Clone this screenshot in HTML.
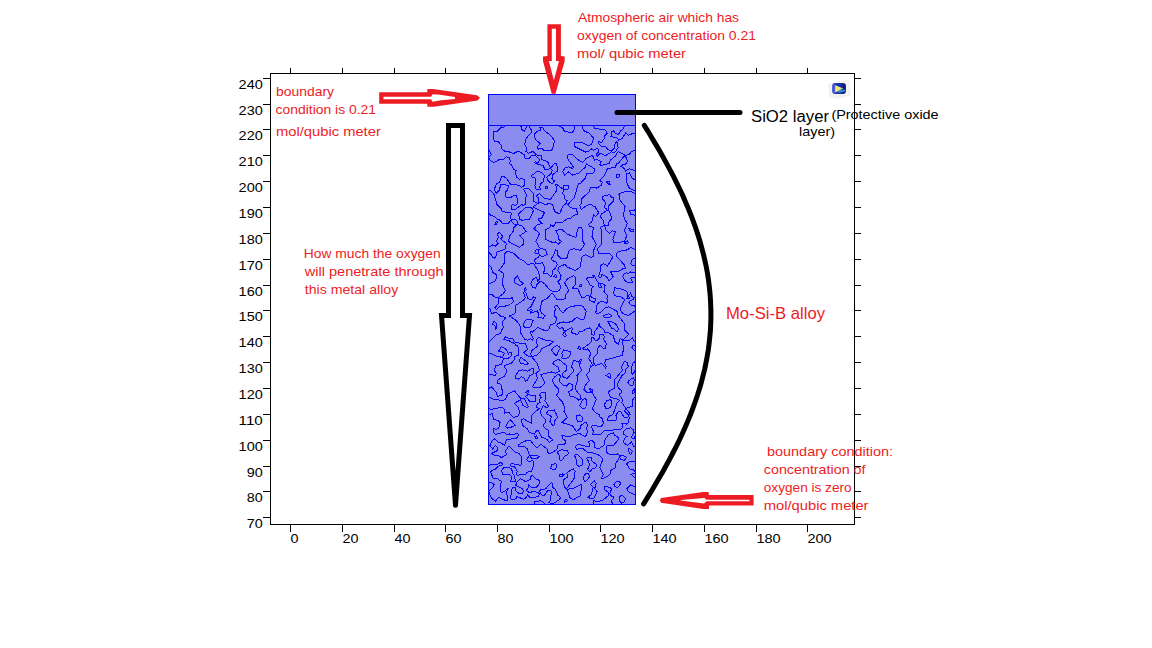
<!DOCTYPE html>
<html><head><meta charset="utf-8"><style>
html,body{margin:0;padding:0;background:#fff;width:1152px;height:648px;overflow:hidden}
svg{display:block}
text{font-family:"Liberation Sans",sans-serif}
</style></head><body>
<svg width="1152" height="648" viewBox="0 0 1152 648">
<rect width="1152" height="648" fill="#fff"/>
<g fill="#000" shape-rendering="crispEdges"><rect x="270" y="73" width="585" height="1"/><rect x="270" y="524" width="585" height="1"/><rect x="270" y="73" width="1" height="452"/><rect x="854" y="73" width="1" height="452"/><rect x="290" y="68" width="1" height="5"/><rect x="290" y="525" width="1" height="7"/><rect x="342" y="68" width="1" height="5"/><rect x="342" y="525" width="1" height="7"/><rect x="394" y="68" width="1" height="5"/><rect x="394" y="525" width="1" height="7"/><rect x="445" y="68" width="1" height="5"/><rect x="445" y="525" width="1" height="7"/><rect x="497" y="68" width="1" height="5"/><rect x="497" y="525" width="1" height="7"/><rect x="549" y="68" width="1" height="5"/><rect x="549" y="525" width="1" height="7"/><rect x="600" y="68" width="1" height="5"/><rect x="600" y="525" width="1" height="7"/><rect x="652" y="68" width="1" height="5"/><rect x="652" y="525" width="1" height="7"/><rect x="704" y="68" width="1" height="5"/><rect x="704" y="525" width="1" height="7"/><rect x="756" y="68" width="1" height="5"/><rect x="756" y="525" width="1" height="7"/><rect x="807" y="68" width="1" height="5"/><rect x="807" y="525" width="1" height="7"/><rect x="263" y="78" width="7" height="1"/><rect x="855" y="78" width="6" height="1"/><rect x="263" y="104" width="7" height="1"/><rect x="855" y="104" width="6" height="1"/><rect x="263" y="129" width="7" height="1"/><rect x="855" y="129" width="6" height="1"/><rect x="263" y="155" width="7" height="1"/><rect x="855" y="155" width="6" height="1"/><rect x="263" y="181" width="7" height="1"/><rect x="855" y="181" width="6" height="1"/><rect x="263" y="207" width="7" height="1"/><rect x="855" y="207" width="6" height="1"/><rect x="263" y="233" width="7" height="1"/><rect x="855" y="233" width="6" height="1"/><rect x="263" y="259" width="7" height="1"/><rect x="855" y="259" width="6" height="1"/><rect x="263" y="285" width="7" height="1"/><rect x="855" y="285" width="6" height="1"/><rect x="263" y="310" width="7" height="1"/><rect x="855" y="310" width="6" height="1"/><rect x="263" y="336" width="7" height="1"/><rect x="855" y="336" width="6" height="1"/><rect x="263" y="362" width="7" height="1"/><rect x="855" y="362" width="6" height="1"/><rect x="263" y="388" width="7" height="1"/><rect x="855" y="388" width="6" height="1"/><rect x="263" y="414" width="7" height="1"/><rect x="855" y="414" width="6" height="1"/><rect x="263" y="440" width="7" height="1"/><rect x="855" y="440" width="6" height="1"/><rect x="263" y="466" width="7" height="1"/><rect x="855" y="466" width="6" height="1"/><rect x="263" y="491" width="7" height="1"/><rect x="855" y="491" width="6" height="1"/><rect x="263" y="517" width="7" height="1"/><rect x="855" y="517" width="6" height="1"/></g>
<g font-size="13" fill="#000"><text x="290.4" y="543" textLength="8.0" lengthAdjust="spacingAndGlyphs">0</text><text x="342.4" y="543" textLength="16.0" lengthAdjust="spacingAndGlyphs">20</text><text x="394.4" y="543" textLength="16.0" lengthAdjust="spacingAndGlyphs">40</text><text x="445.4" y="543" textLength="16.0" lengthAdjust="spacingAndGlyphs">60</text><text x="497.4" y="543" textLength="16.0" lengthAdjust="spacingAndGlyphs">80</text><text x="549.4" y="543" textLength="24.2" lengthAdjust="spacingAndGlyphs">100</text><text x="600.4" y="543" textLength="24.2" lengthAdjust="spacingAndGlyphs">120</text><text x="652.4" y="543" textLength="24.2" lengthAdjust="spacingAndGlyphs">140</text><text x="704.4" y="543" textLength="24.2" lengthAdjust="spacingAndGlyphs">160</text><text x="756.4" y="543" textLength="24.2" lengthAdjust="spacingAndGlyphs">180</text><text x="807.4" y="543" textLength="24.2" lengthAdjust="spacingAndGlyphs">200</text><text x="238.60000000000002" y="89" textLength="24.2" lengthAdjust="spacingAndGlyphs">240</text><text x="238.60000000000002" y="115" textLength="24.2" lengthAdjust="spacingAndGlyphs">230</text><text x="238.60000000000002" y="140" textLength="24.2" lengthAdjust="spacingAndGlyphs">220</text><text x="238.60000000000002" y="166" textLength="24.2" lengthAdjust="spacingAndGlyphs">210</text><text x="238.60000000000002" y="192" textLength="24.2" lengthAdjust="spacingAndGlyphs">200</text><text x="238.60000000000002" y="218" textLength="24.2" lengthAdjust="spacingAndGlyphs">190</text><text x="238.60000000000002" y="244" textLength="24.2" lengthAdjust="spacingAndGlyphs">180</text><text x="238.60000000000002" y="270" textLength="24.2" lengthAdjust="spacingAndGlyphs">170</text><text x="238.60000000000002" y="296" textLength="24.2" lengthAdjust="spacingAndGlyphs">160</text><text x="238.60000000000002" y="321" textLength="24.2" lengthAdjust="spacingAndGlyphs">150</text><text x="238.60000000000002" y="347" textLength="24.2" lengthAdjust="spacingAndGlyphs">140</text><text x="238.60000000000002" y="373" textLength="24.2" lengthAdjust="spacingAndGlyphs">130</text><text x="238.60000000000002" y="399" textLength="24.2" lengthAdjust="spacingAndGlyphs">120</text><text x="238.60000000000002" y="425" textLength="24.2" lengthAdjust="spacingAndGlyphs">110</text><text x="238.60000000000002" y="451" textLength="24.2" lengthAdjust="spacingAndGlyphs">100</text><text x="246.8" y="477" textLength="16.0" lengthAdjust="spacingAndGlyphs">90</text><text x="246.8" y="502" textLength="16.0" lengthAdjust="spacingAndGlyphs">80</text><text x="246.8" y="528" textLength="16.0" lengthAdjust="spacingAndGlyphs">70</text></g>
<rect x="488.5" y="94.5" width="147" height="410" fill="#8c8cf0" stroke="#0000ff" stroke-width="1" shape-rendering="crispEdges"/>
<path d="M488,125.5H636" stroke="#0000ff" stroke-width="1" shape-rendering="crispEdges"/>
<path d="M528.8,125.5 531.5,130.5 531.2,132.5 526.1,138.5 524.7,144.5 526.6,148.5 526.0,151.5 528.5,153.3 532.8,151.5 536.5,155.0 541.0,155.5 541.7,159.5 547.5,161.4 550.5,168.0 554.5,163.7 556.5,163.5 558.0,170.5 552.9,174.5 552.0,178.5 552.5,179.8 554.8,180.5 552.5,183.8 548.5,181.4 546.6,177.5 551.0,173.5 552.4,170.5 550.5,168.8 544.6,169.5 543.4,165.5 535.3,163.5 534.6,162.5 535.4,161.5 537.5,163.4 539.7,159.5 535.5,155.8 531.5,155.7 529.0,158.5 526.5,158.9 524.2,157.5 524.2,154.5 519.5,151.8 517.5,151.5 513.5,153.5 507.5,151.3 505.5,151.9 501.3,148.5 501.4,145.5 498.5,141.7 494.5,141.5 493.5,138.9 493.5,131.0 497.5,131.0 501.5,126.9 503.5,127.2 505.7,125.5M519.2,125.5 521.3,126.5 522.0,129.5 524.5,131.4 527.0,125.5M574.9,125.5 574.5,129.4 573.4,131.5 571.5,132.5 564.5,131.5 563.0,128.5 559.0,125.5M593.6,125.5 594.5,128.6 603.7,129.5 605.6,130.5 607.2,133.5 604.5,135.8 604.1,138.5 601.6,142.5 598.5,141.6 598.5,143.7 601.5,146.2 605.5,146.4 607.5,149.3 611.5,151.0 614.1,148.5 615.2,143.5 616.5,141.8 617.5,142.4 617.1,145.5 618.2,147.5 615.5,151.6 613.5,152.6 611.5,151.9 605.5,155.7 600.5,153.2 597.5,155.9 596.2,154.5 598.1,152.5 598.5,149.1 596.5,148.8 593.5,150.2 591.5,149.0 588.5,151.4 585.5,152.0 574.6,146.5 574.5,142.5 576.5,142.1 582.5,142.9 588.5,145.9 591.5,144.1 593.3,139.5 593.0,137.5 589.5,133.4 583.4,130.5 581.9,125.5M635.5,133.8 633.5,133.2 628.5,135.2 625.5,133.1 622.2,138.5 618.5,140.0 617.5,138.2 611.0,136.5 611.6,131.5 613.5,130.8 615.6,133.5 618.5,134.5 620.5,130.8 622.8,129.5 624.6,125.5M550.5,150.8 544.5,151.0 541.5,148.1 538.5,149.2 537.9,148.5 537.8,146.5 540.2,143.5 535.5,139.6 534.2,134.5 537.5,131.2 540.5,130.2 540.5,127.6 539.5,127.3 542.8,127.5 544.1,130.5 549.5,134.3 554.7,140.5 552.4,149.5 550.5,150.8M488.5,148.8 491.2,154.5 488.8,157.5 490.5,160.8 494.5,162.5 499.5,159.3 503.5,159.6 506.5,156.8 509.5,157.8 510.3,161.5 509.6,163.5 511.5,165.0 513.5,169.1 516.1,170.5 515.2,172.5 516.5,177.0 519.5,179.3 522.5,178.3 524.9,180.5 524.3,185.5 521.5,187.1 518.5,185.2 510.5,184.3 506.7,178.5 503.5,176.4 501.8,176.5 499.5,182.0 496.5,184.0 494.1,189.5 496.1,193.5 499.1,190.5 500.9,184.5 508.5,185.3 507.8,189.5 505.2,192.5 505.4,196.5 506.5,197.4 511.5,197.1 514.5,195.2 516.6,195.5 518.0,202.5 515.6,205.5 512.5,204.5 511.2,206.5 511.5,209.1 515.5,209.3 521.5,204.6 523.5,205.4 525.5,204.0 526.2,194.5 523.7,189.5 524.5,188.2 528.3,188.5 533.8,193.5 533.7,201.5 538.2,203.5 533.3,206.5 533.6,207.5 544.5,212.5 541.5,218.5 538.5,218.5 538.2,219.5 541.9,223.5 537.6,224.5 534.0,228.5 539.5,233.5 535.9,241.5 540.1,248.5 545.6,249.5 547.3,254.5 542.5,256.7 539.5,254.9 538.0,257.5 534.7,259.5 534.4,261.5 536.5,263.9 542.5,262.8 544.9,268.5 543.5,273.3 547.5,273.6 550.5,276.8 551.9,275.5 552.6,270.5 555.2,268.5 557.4,264.5 555.8,261.5 552.5,260.8 551.2,258.5 553.5,255.5 555.5,249.6 557.2,250.5 557.2,254.5 560.8,258.5 565.5,258.5 567.6,257.5 568.2,252.5 570.2,249.5 574.5,248.8 580.5,250.4 584.5,244.5 582.1,239.5 582.9,231.5 581.5,227.2 578.5,227.9 576.6,233.5 577.0,236.5 575.5,237.3 567.5,234.2 561.5,229.2 555.7,230.5 558.0,234.5 558.8,239.5 561.3,241.5 558.5,244.1 555.5,241.9 552.5,242.5 545.9,239.5 545.9,229.5 550.0,227.5 550.5,225.0 553.5,226.5 555.5,222.8 562.5,222.4 567.5,218.5 570.5,218.6 573.5,215.3 577.6,214.5 576.5,208.9 570.5,207.7 568.0,204.5 574.3,197.5 578.4,183.5 580.5,183.3 585.5,178.0 586.5,173.9 592.5,173.4 594.7,171.5 594.2,168.5 586.5,163.9 584.6,168.5 583.3,168.5 579.5,172.8 572.5,175.0 568.5,172.0 564.5,175.3 562.6,171.5 565.3,167.5 568.5,166.9 572.5,168.4 573.7,167.5 567.5,158.5 567.2,155.5 568.5,154.4 572.5,154.3 576.5,158.8 582.5,162.3 586.5,158.2 592.5,155.2 594.5,160.1 597.5,159.8 601.2,161.5 600.0,164.5 600.5,165.7 609.3,163.5 610.1,160.5 616.0,155.5 616.5,153.4 618.5,151.7 625.5,155.5 629.5,154.3 631.3,151.5 635.5,150.1M635.5,170.7 629.5,168.8 625.5,171.1 624.5,168.5 620.8,166.5 621.5,165.3 625.5,164.1 627.4,161.5 625.5,156.0 623.5,157.0 618.5,163.2 616.5,163.7 615.5,167.5 607.5,168.5 604.4,175.5 599.7,180.5 602.4,182.5 601.0,185.5 596.5,188.1 590.5,187.1 589.5,191.7 581.9,198.5 581.5,203.5 579.7,205.5 581.2,209.5 586.5,205.5 590.5,204.1 593.5,206.1 595.5,206.1 595.9,208.5 598.7,212.5 596.5,215.9 595.5,216.2 593.5,214.3 592.0,221.5 588.6,224.5 589.5,226.0 593.5,227.5 592.0,236.5 596.2,244.5 593.1,251.5 593.6,256.5 590.5,257.4 585.5,254.7 583.5,255.4 581.1,258.5 580.9,266.5 575.5,270.5 566.5,266.8 565.5,264.3 559.3,266.5 557.9,270.5 561.0,275.5 560.1,279.5 557.9,281.5 560.7,286.5 559.5,290.5 555.5,292.0 552.5,291.5 549.5,289.6 544.5,283.5 540.5,281.3 536.8,284.5 535.5,288.1 532.9,287.5 530.9,283.5 532.7,279.5 536.5,277.2 537.5,280.9 540.0,278.5 538.5,271.8 533.8,263.5 527.5,264.3 523.5,260.6 518.9,258.5 513.5,253.1 507.5,251.1 504.0,254.5 504.0,263.5 499.1,270.5 503.8,273.5 502.1,283.5 505.3,290.5 503.4,293.5 498.5,297.3 495.5,297.5 491.8,294.5 488.5,294.4M540.5,190.1 535.5,188.8 534.9,185.5 535.9,178.5 531.0,176.5 531.0,175.5 534.5,173.8 536.5,171.1 541.5,172.5 544.4,175.5 543.5,181.5 540.9,183.5 539.7,186.5 540.5,190.1M635.5,191.4 628.7,187.5 626.6,181.5 626.7,173.5 629.5,172.9 632.5,178.7 635.5,179.6M619.5,177.5 616.5,177.4 617.0,174.5 619.0,174.5 619.5,177.5M610.5,185.5 606.8,182.5 607.0,181.5 609.5,182.0 610.5,185.5M559.5,214.0 554.6,211.5 552.9,205.5 551.5,204.1 548.5,203.6 545.5,204.9 541.5,202.9 538.5,202.9 539.0,198.5 536.4,196.5 537.5,194.6 539.5,193.8 544.5,198.5 550.5,199.3 556.0,191.5 556.8,187.5 555.4,184.5 556.5,184.1 563.5,189.6 562.7,193.5 564.2,195.5 564.1,198.5 567.0,200.5 566.1,203.5 563.2,205.5 559.5,214.0M566.5,189.8 563.6,189.5 563.5,185.9 568.7,185.5 569.0,188.5 566.5,189.8M547.5,188.6 545.5,188.1 545.1,186.5 547.2,186.5 547.5,188.6M488.5,212.9 490.7,215.5 494.7,216.5 497.5,219.4 499.5,219.8 502.5,223.3 507.5,223.9 510.5,220.8 515.5,225.1 517.5,224.9 513.8,227.5 513.8,230.5 509.9,235.5 508.5,241.5 519.5,247.4 523.3,244.5 524.0,242.5 523.2,239.5 520.1,235.5 526.1,231.5 522.5,226.2 517.9,224.5 516.9,220.5 514.5,219.3 511.5,220.0 510.1,217.5 511.4,213.5 510.5,212.5 503.5,211.9 501.6,210.5 501.1,208.5 496.9,204.5 494.0,194.5 491.5,191.1 488.5,189.6M635.5,250.3 631.5,247.4 625.5,250.6 618.5,251.3 616.8,253.5 616.7,256.5 624.0,264.5 625.7,268.5 623.5,268.5 618.5,271.4 610.5,271.4 613.1,276.5 609.5,280.6 608.5,280.5 607.3,277.5 601.5,274.2 601.5,276.7 599.2,277.5 598.6,276.5 600.8,269.5 600.8,265.5 603.5,263.5 607.5,266.1 612.6,257.5 611.5,255.2 609.5,253.9 598.5,253.5 597.5,248.5 601.8,244.5 602.0,230.5 600.2,227.5 604.4,225.5 603.3,220.5 600.1,216.5 601.5,213.9 607.1,210.5 606.4,208.5 604.2,207.5 605.7,202.5 602.2,198.5 602.3,196.5 609.5,194.6 611.5,197.3 613.5,197.5 613.9,198.5 613.1,201.5 608.9,205.5 608.2,209.5 611.0,215.5 611.2,219.5 609.2,221.5 608.2,225.5 604.5,225.5 606.1,230.5 609.5,233.2 612.5,230.8 615.5,231.5 612.9,239.5 613.8,242.5 615.5,243.0 624.2,241.5 626.9,235.5 624.4,230.5 627.4,223.5 624.7,219.5 623.4,214.5 625.1,206.5 619.5,199.6 619.0,194.5 620.5,193.1 625.5,191.6 631.5,191.6 635.5,193.6M523.7,220.5 525.5,219.1 528.5,219.8 529.9,218.5 533.5,210.5 531.5,207.9 525.5,207.8 518.9,213.5 519.2,219.5 523.7,220.5M635.5,208.2 634.5,210.7 629.7,210.5 630.5,214.7 633.5,214.5 635.5,216.1M496.6,224.5 497.5,221.5 496.5,221.3 494.7,224.5 496.6,224.5M633.1,231.5 633.2,229.5 629.0,228.5 630.5,231.3 633.1,231.5M488.5,252.2 491.3,254.5 492.5,257.3 494.5,258.0 495.9,256.5 496.5,252.1 504.8,249.5 506.5,243.5 501.5,239.7 500.9,238.5 502.8,236.5 499.5,232.4 497.9,233.5 498.1,237.5 496.2,241.5 498.2,243.5 495.5,246.2 492.5,245.0 488.5,247.4M627.4,243.5 628.4,242.5 627.5,240.8 625.7,241.5 624.5,243.5 627.4,243.5M538.0,253.5 539.0,249.5 537.5,249.2 535.4,250.5 534.7,252.5 535.5,253.8 538.0,253.5M635.5,265.9 632.5,265.9 630.9,263.5 632.3,259.5 635.5,257.8M488.5,282.9 489.5,283.8 492.4,282.5 495.5,280.5 496.8,277.5 496.3,274.5 492.7,272.5 490.9,266.5 488.5,265.0M635.5,277.4 631.5,277.5 630.9,278.5 632.5,282.5 628.5,282.9 624.8,280.5 622.7,276.5 623.5,274.5 626.5,272.5 628.5,273.7 630.5,272.0 635.5,272.9M556.3,277.5 556.5,275.3 555.5,274.4 553.9,276.5 556.3,277.5M635.5,396.4 632.2,400.5 632.5,406.0 625.6,408.5 629.9,413.5 630.1,414.5 628.5,415.2 624.9,411.5 625.2,407.5 621.9,402.5 622.5,400.5 621.5,397.4 619.5,395.5 619.5,393.9 621.7,392.5 621.6,390.5 618.5,388.2 617.2,384.5 622.5,374.6 625.0,373.5 625.5,369.7 628.3,366.5 627.1,362.5 624.1,361.5 621.7,366.5 622.2,370.5 614.5,379.9 614.1,388.5 609.6,390.5 608.4,392.5 610.5,397.3 618.5,399.3 619.6,400.5 617.3,402.5 612.9,414.5 608.5,416.5 607.4,420.5 615.5,420.7 616.5,419.5 616.0,415.5 616.9,413.5 618.5,411.6 620.5,411.4 624.5,417.9 628.5,416.8 629.2,417.5 628.6,422.5 626.5,424.0 622.0,423.5 622.3,427.5 621.5,429.0 603.5,431.1 600.7,434.5 592.5,434.8 593.4,431.5 591.7,427.5 592.1,425.5 601.5,426.4 603.9,422.5 602.5,421.3 602.4,418.5 599.5,416.8 599.2,414.5 595.5,412.6 592.3,408.5 596.3,399.5 592.0,392.5 592.9,389.5 589.4,388.5 591.4,391.5 589.5,392.7 586.5,392.0 583.8,389.5 585.2,385.5 589.3,380.5 586.3,374.5 589.6,371.5 590.4,365.5 591.5,366.4 593.1,365.5 588.7,358.5 590.5,354.5 589.9,351.5 587.5,348.8 583.5,349.8 582.8,348.5 591.0,342.5 591.7,337.5 593.5,337.7 595.1,340.5 596.5,340.9 599.2,338.5 599.4,334.5 603.5,335.0 604.6,336.5 603.7,339.5 606.3,343.5 605.5,348.1 603.5,348.6 600.5,345.3 599.5,345.7 597.6,348.5 597.6,353.5 594.2,356.5 593.3,359.5 593.9,363.5 595.4,365.5 601.5,363.4 605.5,367.8 606.5,366.5 604.6,363.5 605.5,359.9 622.0,355.5 623.5,349.5 622.5,339.5 620.5,338.7 619.6,339.5 618.4,344.5 614.5,341.1 613.5,335.8 608.5,332.7 604.9,332.5 603.8,329.5 599.9,326.5 599.5,324.0 598.5,324.4 598.4,326.5 594.7,331.5 594.6,334.5 593.5,335.1 591.7,334.5 591.5,329.5 589.5,327.9 586.5,328.5 582.5,331.4 579.5,331.5 577.5,334.7 571.1,332.5 572.5,328.5 571.5,327.7 564.5,331.5 562.5,327.6 559.5,328.3 558.1,327.5 556.9,325.5 557.6,323.5 563.5,322.0 567.5,322.6 572.5,321.1 576.5,317.3 581.5,319.6 583.9,319.5 586.2,311.5 583.5,307.0 581.5,305.8 571.5,306.1 565.5,309.6 563.5,312.8 561.2,311.5 557.5,305.9 555.5,305.7 554.6,306.5 555.5,309.5 554.6,311.5 555.0,316.5 556.9,318.5 555.5,322.5 553.5,324.0 550.5,324.1 548.8,329.5 547.5,330.6 545.5,330.8 537.5,327.5 532.5,332.1 530.5,331.6 530.1,332.5 533.4,338.5 532.5,340.0 530.5,338.7 527.5,340.2 524.5,339.0 520.3,332.5 520.7,327.5 519.6,324.5 515.1,319.5 509.8,316.5 510.0,315.5 513.5,314.5 515.2,312.5 515.5,305.6 524.3,299.5 525.1,297.5 523.9,293.5 524.3,289.5 525.5,287.5 526.3,289.5 524.6,291.5 526.5,293.5 527.5,298.5 531.5,299.8 533.5,296.7 535.6,297.5 531.0,306.5 527.5,309.2 527.5,310.9 531.6,309.5 532.5,310.8 530.5,311.9 530.5,313.3 537.5,310.9 538.7,314.5 538.0,317.5 543.5,318.2 545.0,315.5 541.5,313.0 540.0,309.5 541.8,301.5 548.5,297.3 551.5,293.1 553.5,294.3 556.5,299.0 560.5,299.9 565.5,298.6 565.6,294.5 568.8,290.5 564.4,282.5 568.5,278.1 573.5,275.9 575.0,276.5 575.2,284.5 572.3,288.5 577.5,288.1 581.5,297.0 583.5,297.9 587.5,295.2 589.4,296.5 589.4,300.5 594.5,302.4 595.6,298.5 593.5,298.5 590.7,296.5 591.8,288.5 593.2,286.5 589.3,284.5 588.7,281.5 586.4,279.5 587.6,277.5 593.7,277.5 593.0,275.5 594.5,275.3 596.5,280.5 599.0,283.5 598.1,284.5 599.1,287.5 601.6,287.5 600.0,283.5 602.5,283.6 605.0,285.5 603.9,291.5 607.5,295.5 606.8,298.5 607.8,301.5 606.5,303.1 601.5,301.1 598.5,302.7 596.3,306.5 596.7,310.5 595.5,312.5 596.5,313.5 600.5,312.6 605.5,307.8 608.5,306.8 617.4,311.5 617.4,314.5 624.4,323.5 624.9,330.5 628.8,334.5 623.6,339.5 623.9,340.5 629.5,340.8 632.5,337.7 633.6,340.5 635.5,341.9M520.5,285.6 514.1,282.5 514.2,279.5 517.5,275.7 519.6,280.5 523.3,283.5 520.5,285.6M581.5,286.7 579.5,286.5 580.5,284.2 581.5,284.7 581.5,286.7M635.5,310.5 628.5,315.5 622.7,313.5 620.4,310.5 620.2,308.5 624.7,299.5 620.5,296.8 614.5,295.8 613.7,293.5 614.5,287.8 622.5,289.2 626.9,291.5 627.7,296.5 626.5,299.0 629.2,298.5 628.7,295.5 630.5,293.2 632.0,296.5 634.3,297.5 633.5,299.6 630.5,300.6 628.8,302.5 631.5,305.3 634.5,305.7 635.5,307.0M496.5,309.7 495.0,307.5 498.6,303.5 498.5,298.1 512.5,298.0 513.5,301.5 510.5,304.5 503.5,306.6 499.5,306.6 496.5,309.7M488.5,307.8 490.4,309.5 491.5,313.5 496.5,312.3 500.5,316.1 505.8,317.5 502.1,322.5 503.4,327.5 501.2,330.5 500.8,333.5 495.5,335.3 490.5,340.7 488.5,341.6M608.0,317.5 611.3,316.5 611.0,314.5 608.5,313.8 603.7,315.5 603.4,316.5 605.5,317.7 608.0,317.5M529.6,327.5 530.9,326.5 533.0,320.5 531.5,319.5 525.5,320.1 523.6,323.5 524.0,326.5 525.5,327.7 529.6,327.5M496.8,328.5 495.9,322.5 493.5,321.5 492.5,324.2 494.9,325.5 495.5,329.1 496.8,328.5M618.4,330.5 617.9,327.5 615.5,323.9 610.5,321.2 607.9,321.5 611.5,328.2 613.5,328.6 616.5,331.5 618.4,330.5M565.5,337.0 562.5,334.5 564.5,331.6 566.3,335.5 565.5,337.0M488.5,389.6 489.5,387.3 491.5,386.9 496.3,392.5 497.5,396.4 501.7,395.5 502.6,392.5 501.2,385.5 499.5,383.5 497.5,383.5 497.5,380.1 505.5,375.5 506.7,370.5 504.3,366.5 504.6,365.5 511.5,363.2 514.2,359.5 514.1,356.5 518.0,355.5 518.4,354.5 519.0,348.5 517.5,346.0 515.5,345.2 514.5,343.2 511.5,342.6 508.5,340.3 503.5,339.8 505.5,336.8 509.5,338.6 512.9,338.5 514.5,341.8 522.5,343.9 525.5,343.6 527.6,349.5 523.7,352.5 524.2,353.5 529.5,356.8 531.5,356.6 537.2,363.5 539.4,370.5 536.0,373.5 537.3,378.5 532.7,386.5 533.5,387.6 540.5,387.2 544.4,383.5 544.5,381.5 540.6,374.5 551.5,372.0 555.5,373.2 559.3,371.5 558.5,367.6 552.8,363.5 553.5,362.0 557.5,359.9 559.5,360.0 566.5,365.5 566.2,370.5 562.2,373.5 563.3,377.5 567.5,378.3 573.2,371.5 573.4,369.5 571.3,366.5 573.2,361.5 574.5,360.1 578.5,362.2 580.5,359.2 581.5,359.4 579.3,365.5 581.7,370.5 576.9,375.5 577.8,380.5 575.3,386.5 576.2,390.5 580.3,395.5 581.1,398.5 580.3,399.5 578.5,400.0 575.5,397.3 570.1,396.5 568.5,391.9 572.3,389.5 572.4,384.5 569.5,383.2 566.5,386.1 563.8,385.5 559.4,381.5 560.4,376.5 559.5,374.4 557.5,374.6 554.5,377.1 552.2,380.5 554.2,384.5 558.8,389.5 559.0,391.5 556.4,395.5 562.1,401.5 564.3,406.5 564.0,411.5 567.3,417.5 561.9,422.5 572.5,425.8 576.5,431.5 580.3,428.5 580.9,425.5 584.5,422.8 586.5,422.6 587.9,425.5 586.2,428.5 587.7,431.5 585.5,436.8 579.5,433.5 573.5,434.7 569.5,436.9 562.0,435.5 563.2,439.5 565.8,440.5 565.2,443.5 563.5,444.9 558.5,444.4 557.1,446.5 557.0,449.5 549.5,453.9 547.9,452.5 547.5,449.2 541.5,444.8 540.5,444.4 537.5,447.8 535.5,446.8 530.5,440.7 528.5,440.2 523.7,441.5 519.0,444.5 518.5,446.0 520.5,447.0 524.5,446.9 527.2,448.5 529.4,455.5 526.6,459.5 528.5,461.5 532.5,460.7 534.0,462.5 533.9,464.5 531.5,471.7 527.5,472.1 525.5,474.4 517.5,475.1 516.2,474.5 517.3,471.5 514.5,466.5 511.5,466.5 510.3,464.5 512.5,463.3 515.5,464.7 518.5,464.4 520.5,465.9 521.5,465.5 521.8,457.5 519.1,453.5 514.5,451.8 510.5,447.1 508.5,446.5 505.1,451.5 506.6,454.5 501.5,457.7 499.5,456.2 492.1,454.5 491.6,453.5 497.4,450.5 497.9,447.5 495.5,445.5 492.5,449.0 490.0,445.5 492.2,440.5 494.5,438.9 498.5,442.5 501.5,443.2 504.5,445.5 506.5,439.5 516.4,438.5 518.8,434.5 516.5,433.2 513.5,434.9 509.5,434.0 507.5,434.9 503.5,432.2 495.4,434.5 493.5,432.5 493.4,428.5 496.5,429.4 498.5,428.5 500.1,422.5 498.1,420.5 493.5,419.5 492.5,413.8 488.5,414.4M536.5,355.6 531.5,356.5 530.6,354.5 531.7,350.5 537.3,346.5 536.5,339.5 537.5,338.1 539.5,337.6 544.5,339.9 553.4,341.5 549.5,345.0 541.9,348.5 539.5,352.8 536.5,355.6M635.5,345.8 632.5,345.8 631.9,347.5 635.5,351.9M556.5,355.9 551.3,350.5 554.5,346.2 557.5,345.8 559.5,346.5 560.4,348.5 558.5,350.5 556.5,355.9M580.5,349.9 577.9,348.5 578.5,346.5 579.5,346.2 580.4,347.5 580.5,349.9M488.5,354.0 490.5,353.1 496.5,356.4 502.5,357.3 504.5,353.4 503.5,352.3 498.4,351.5 501.5,346.5 506.5,349.6 508.5,353.7 509.1,352.5 511.5,352.1 512.0,355.5 508.5,358.1 503.5,358.5 501.5,364.6 495.5,365.6 494.5,370.5 496.1,373.5 495.4,375.5 488.5,373.8M565.5,358.8 562.5,358.7 561.9,357.5 562.7,355.5 561.7,353.5 563.5,349.8 570.4,351.5 570.9,352.5 569.5,356.8 565.5,358.8M526.8,364.5 528.1,363.5 527.9,362.5 521.5,357.6 520.5,357.9 519.4,360.5 520.4,363.5 526.8,364.5M635.5,361.6 633.2,362.5 631.3,367.5 631.2,372.5 632.5,374.2 633.9,373.5 634.3,370.5 635.5,369.3M527.4,380.5 529.5,376.0 533.5,373.5 533.5,369.0 531.5,368.8 527.5,371.2 522.5,369.9 518.5,371.0 515.9,375.5 515.9,378.5 518.5,379.1 521.5,376.8 523.7,377.5 525.5,381.2 527.4,380.5M611.0,377.5 610.5,374.1 608.5,373.6 606.1,375.5 610.5,378.2 611.0,377.5M632.8,385.5 634.3,379.5 633.5,377.6 628.5,380.9 627.9,382.5 630.5,385.5 632.8,385.5M633.8,393.5 634.9,391.5 634.5,389.0 632.8,390.5 632.8,393.5 633.8,393.5M488.5,408.3 490.5,409.4 502.5,407.1 504.4,409.5 504.5,413.1 508.5,412.2 513.5,417.2 517.7,416.5 519.6,412.5 518.2,407.5 514.5,403.1 520.5,399.9 523.0,405.5 527.5,407.5 528.3,406.5 524.5,398.7 520.5,398.1 514.5,391.0 507.5,394.3 505.9,398.5 503.5,400.7 492.5,399.0 488.5,396.6M528.8,392.5 528.5,391.0 527.5,390.9 525.7,392.5 527.5,393.4 528.8,392.5M551.5,441.5 552.5,439.5 548.5,436.3 548.8,430.5 545.5,428.9 543.8,426.5 543.8,424.5 546.0,421.5 545.7,419.5 541.4,415.5 540.1,411.5 543.4,405.5 546.5,407.7 548.6,406.5 544.9,400.5 545.8,398.5 545.5,392.6 541.5,392.5 539.5,394.5 541.0,397.5 539.4,400.5 540.1,402.5 537.5,403.5 536.5,406.5 536.5,407.6 539.0,408.5 531.4,415.5 531.9,423.5 523.5,418.9 521.5,419.3 521.3,420.5 522.7,425.5 527.5,428.9 529.5,432.7 534.5,434.0 536.5,430.8 538.5,430.6 541.5,437.0 546.5,439.1 549.5,442.4 551.5,441.5M536.0,401.5 535.5,395.4 532.5,395.8 528.5,394.3 525.6,396.5 530.5,402.0 536.0,401.5M585.5,407.9 582.5,408.5 579.7,405.5 582.7,399.5 584.5,398.6 586.5,399.4 586.7,400.5 586.5,406.5 585.5,407.9M608.3,408.5 610.5,407.3 611.7,404.5 611.9,401.5 610.5,399.7 606.5,400.8 604.5,404.5 605.5,408.3 608.3,408.5M554.6,424.5 555.0,420.5 557.2,417.5 556.9,414.5 555.1,412.5 554.5,409.5 552.5,411.0 548.5,410.5 546.3,413.5 551.4,416.5 549.9,421.5 552.5,425.0 553.5,425.5 554.6,424.5M581.5,422.0 577.2,421.5 576.5,415.3 579.5,414.9 581.7,416.5 582.9,419.5 581.5,422.0M510.3,427.5 515.4,425.5 510.5,419.8 508.1,421.5 505.7,426.5 507.5,428.0 510.3,427.5M635.5,446.3 633.5,446.0 631.5,442.1 627.5,445.3 623.1,442.5 624.5,438.2 626.9,436.5 623.9,434.5 623.4,431.5 626.9,428.5 630.5,427.9 633.2,429.5 634.0,432.5 631.7,436.5 632.2,438.5 634.0,438.5 635.5,435.3M603.5,478.5 601.2,478.5 603.1,474.5 599.8,467.5 602.4,460.5 601.9,457.5 597.5,454.2 593.5,453.7 592.5,452.4 587.5,452.6 582.5,448.1 576.5,449.4 575.5,446.5 577.5,444.2 588.5,446.9 589.8,445.5 588.6,441.5 591.5,440.2 594.1,442.5 594.7,447.5 598.5,448.8 605.0,444.5 604.5,440.5 608.5,434.4 613.5,432.9 614.8,435.5 618.3,437.5 618.3,439.5 613.5,445.6 609.5,445.1 606.5,446.2 606.3,451.5 607.9,453.5 611.5,454.9 617.5,453.9 620.5,456.1 623.5,455.4 626.4,457.5 624.5,460.4 621.0,459.5 619.5,457.1 615.8,463.5 615.6,467.5 610.6,470.5 611.0,472.5 608.5,475.7 603.5,478.5M537.5,438.5 536.5,436.0 534.6,436.5 535.7,438.5 537.5,438.5M630.5,454.9 628.5,451.5 628.5,448.6 629.5,448.2 632.3,451.5 630.5,454.9M561.5,460.8 559.2,459.5 559.7,455.5 557.9,453.5 557.7,451.5 561.5,449.8 567.5,450.9 568.8,453.5 564.6,456.5 561.5,460.8M581.5,465.9 578.5,466.1 576.5,464.5 576.4,459.5 574.6,455.5 575.2,454.5 577.5,454.3 582.2,459.5 583.0,463.5 581.5,465.9M536.5,458.8 532.5,458.8 530.2,456.5 530.5,455.6 535.5,455.2 539.4,456.5 536.5,458.8M589.5,471.9 587.6,469.5 589.2,465.5 588.9,461.5 586.5,458.5 587.5,457.1 591.5,457.1 591.2,460.5 596.7,464.5 596.0,467.5 592.5,468.8 589.5,471.9M635.5,472.6 633.5,469.8 629.5,468.8 626.5,463.5 630.5,461.3 635.5,462.0M488.5,465.2 497.5,464.1 500.5,462.4 502.4,463.5 502.5,464.9 499.5,465.4 494.5,469.9 491.5,470.1 490.7,472.5 493.5,478.8 496.5,478.2 501.6,481.5 500.1,486.5 500.5,491.6 501.5,492.4 504.5,491.5 508.5,487.9 506.7,491.5 507.5,500.3 505.5,500.5 498.5,497.2 495.5,501.0 491.5,498.4 488.8,491.5 493.5,486.8 494.3,484.5 491.5,482.6 488.5,482.8M555.5,470.3 550.4,468.5 551.7,464.5 555.5,463.7 556.8,464.5 555.5,470.3M515.5,481.5 510.9,481.5 511.4,476.5 509.7,474.5 502.5,474.1 501.6,470.5 503.5,467.8 508.5,467.5 511.9,468.5 512.2,473.5 514.3,475.5 515.5,481.5M566.5,489.0 564.1,486.5 563.6,479.5 567.1,477.5 567.6,475.5 566.6,473.5 567.5,472.2 573.5,468.8 575.1,471.5 574.1,478.5 566.5,489.0M586.5,481.0 584.5,481.3 583.3,478.5 584.5,474.6 586.5,473.2 588.5,473.9 589.7,476.5 586.5,481.0M635.5,478.5 631.2,474.5 633.5,473.4 635.5,473.9M561.5,477.1 559.5,476.6 559.5,475.0 562.5,474.0 564.3,474.5 561.5,477.1M513.5,499.7 511.5,499.6 510.9,498.5 511.2,490.5 512.5,487.8 515.2,487.5 515.1,490.5 519.5,493.7 522.1,493.5 523.5,491.5 522.2,488.5 515.7,485.5 516.6,482.5 520.5,478.6 525.5,481.6 530.1,479.5 530.8,476.5 532.5,475.4 535.5,478.8 539.8,480.5 539.7,483.5 536.5,487.2 531.5,487.3 528.5,485.1 528.3,487.5 526.3,490.5 529.5,492.6 532.5,491.7 537.5,492.2 539.2,493.5 538.8,496.5 530.5,497.8 527.5,494.8 526.2,497.5 523.5,499.3 516.5,496.3 516.1,498.5 513.5,499.7M593.5,499.2 587.8,497.5 591.4,494.5 593.2,487.5 590.5,484.5 594.5,480.9 596.2,483.5 594.7,488.5 597.0,491.5 593.5,499.2M617.5,487.7 614.5,486.5 613.9,484.5 616.5,481.7 618.5,481.3 620.0,482.5 620.0,484.5 617.5,487.7M552.5,504.1 548.4,502.5 550.5,500.3 551.4,491.5 550.5,490.6 547.5,490.9 544.5,495.4 541.5,495.0 539.6,491.5 540.5,489.5 545.5,488.9 551.5,482.5 553.0,484.5 552.8,487.5 555.5,489.4 558.0,495.5 560.7,497.5 559.5,499.5 552.5,504.1M573.5,499.5 570.4,498.5 567.0,489.5 574.5,487.9 581.2,484.5 580.9,495.5 573.5,499.5M635.5,495.1 629.8,492.5 627.5,490.5 626.9,488.5 630.5,484.9 635.5,487.4M592.1,504.5 593.5,503.5 593.5,500.6 597.5,501.5 602.5,500.4 608.5,495.5 608.4,492.5 604.3,489.5 604.2,487.5 605.5,486.2 611.8,488.5 609.8,493.5 611.5,496.2 613.7,496.5 613.6,498.5 611.5,500.5 612.5,504.5M623.5,502.8 621.5,503.2 619.9,501.5 619.3,497.5 620.5,495.8 622.5,495.7 625.7,498.5 623.5,502.8M566.5,501.7 564.5,502.0 564.5,500.3 566.6,499.5 567.7,500.5 566.5,501.7M534.7,504.5 534.5,501.8 540.5,500.7 543.7,502.5 544.6,503.5 544.0,504.5" fill="none" stroke="#0000ff" stroke-width="1" shape-rendering="crispEdges"/>
<!-- logo -->
<defs>
<linearGradient id="lgb" x1="0" y1="0" x2="1" y2="0"><stop offset="0" stop-color="#2a48d0"/><stop offset="0.6" stop-color="#1a2aa8"/><stop offset="1" stop-color="#080c60"/></linearGradient>
<linearGradient id="lgy" x1="0" y1="0" x2="1" y2="0"><stop offset="0" stop-color="#f6ee5a"/><stop offset="0.5" stop-color="#e6e870"/><stop offset="1" stop-color="#50b0e0"/></linearGradient>
</defs>
<g>
 <path d="M828,84 L846,79.5 L849.5,80.5 L851,95 L838,99 L829.5,97 Z" fill="#e6e6e6" opacity="0.55"/>
 <path d="M831.5,82.5 L846.5,82 L846.5,95 L831.5,95 Z" fill="#fffbe8" opacity="0.5"/>
 <rect x="832.3" y="83.1" width="13.6" height="11" rx="3" fill="url(#lgb)"/>
 <ellipse cx="833.6" cy="88.6" rx="1.4" ry="5.2" fill="#4a5cd8"/>
 <path d="M835.2,85.2 L843.5,88.4 L835.2,92.6 Z" fill="url(#lgy)"/>
 <path d="M838.5,90.6 L845.2,89.6 L845.2,91.4 L838.5,92.8 Z" fill="#38b0f0" opacity="0.75"/>
</g>
<!-- black shapes -->
<path d="M448.5,125.5 H462.5 V315.5 H469.5 L455.5,505 L441.5,315.5 H448.5 Z" fill="none" stroke="#000" stroke-width="5" stroke-linejoin="miter"/>
<circle cx="455.5" cy="505.2" r="2.5" fill="#000"/>
<path d="M617,112.5 H740" stroke="#000" stroke-width="5" stroke-linecap="round"/>
<path d="M644.3,125.4 L648.3,131.8 L652.1,138.2 L655.9,144.6 L659.7,151.1 L663.3,157.5 L666.8,163.9 L670.3,170.3 L673.6,176.7 L676.8,183.1 L679.9,189.5 L682.9,195.9 L685.7,202.4 L688.4,208.8 L691.0,215.2 L693.4,221.6 L695.7,228.0 L697.8,234.4 L699.8,240.8 L701.6,247.3 L703.3,253.7 L704.8,260.1 L706.2,266.5 L707.4,272.9 L708.4,279.3 L709.2,285.7 L709.9,292.2 L710.4,298.6 L710.7,305.0 L710.9,311.4 L710.9,317.8 L710.7,324.2 L710.4,330.6 L709.8,337.0 L709.1,343.5 L708.3,349.9 L707.2,356.3 L706.0,362.7 L704.7,369.1 L703.1,375.5 L701.5,381.9 L699.6,388.4 L697.6,394.8 L695.4,401.2 L693.1,407.6 L690.7,414.0 L688.1,420.4 L685.4,426.8 L682.5,433.3 L679.5,439.7 L676.4,446.1 L673.1,452.5 L669.8,458.9 L666.3,465.3 L662.8,471.7 L659.1,478.1 L655.3,484.6 L651.5,491.0 L647.6,497.4 L643.6,503.8" fill="none" stroke="#000" stroke-width="5" stroke-linecap="round"/>
<!-- red arrows -->
<g fill="#ed1c24">
<path d="M547.4,24.2 H560.9 V56.1 L564.7,56.5 V60.9 L555.5,93.8 H551.7 L543,60.9 V56.5 L547.4,56.1 Z"/>
<path d="M379.2,92.2 H427.3 V89 H433 L477,95.3 L480,97.8 L477.6,100.6 L434,106.8 H427.3 V103.7 H379.2 Z"/>
<path d="M753.6,494.9 H709 L708.5,492 H703 L661,498 L659.9,500.4 L661,502.7 L703,509 H709 V505.6 H753.6 Z"/>
</g>
<g fill="#fff">
<path d="M551.8,28.7 H556 V61 H559 L553.9,80.2 L548.8,61 H551.8 Z"/>
<path d="M383.5,96.8 H431 L432.5,94.2 L440,94.7 L455,97 V98.9 L441,100.3 L432.5,101.8 L431,99.3 H383.5 Z"/>
<path d="M749.5,499.8 H706.5 L704.5,498 L681,500.1 L680.5,500.4 L704,503.4 L706.5,501.2 H749.5 Z"/>
</g>
<text x="578.0" y="22.0" font-size="13.5" fill="#ed1c24" textLength="161.0" lengthAdjust="spacingAndGlyphs">Atmospheric air which has</text><text x="577.0" y="40.0" font-size="13.5" fill="#ed1c24" textLength="179.0" lengthAdjust="spacingAndGlyphs">oxygen of concentration 0.21</text><text x="577.0" y="57.5" font-size="13.5" fill="#ed1c24" textLength="109.0" lengthAdjust="spacingAndGlyphs">mol/ qubic meter</text><text x="276.0" y="96.0" font-size="13.5" fill="#ed1c24" textLength="58.0" lengthAdjust="spacingAndGlyphs">boundary</text><text x="275.6" y="113.5" font-size="13.5" fill="#ed1c24" textLength="100.5" lengthAdjust="spacingAndGlyphs">condition is 0.21</text><text x="276.0" y="135.8" font-size="13.5" fill="#ed1c24" textLength="104.8" lengthAdjust="spacingAndGlyphs">mol/qubic meter</text><text x="303.8" y="258.0" font-size="13.5" fill="#ed1c24" textLength="136.9" lengthAdjust="spacingAndGlyphs">How much the oxygen</text><text x="304.8" y="275.5" font-size="13.5" fill="#ed1c24" textLength="138.9" lengthAdjust="spacingAndGlyphs">will penetrate through</text><text x="304.8" y="293.5" font-size="13.5" fill="#ed1c24" textLength="93.4" lengthAdjust="spacingAndGlyphs">this metal alloy</text><text x="726.0" y="319.0" font-size="16.5" fill="#ed1c24" textLength="99.0" lengthAdjust="spacingAndGlyphs">Mo-Si-B alloy</text><text x="751.0" y="121.8" font-size="16.0" fill="#000" textLength="78.0" lengthAdjust="spacingAndGlyphs">SiO2 layer</text><text x="831.4" y="119.0" font-size="13.5" fill="#000" textLength="107.2" lengthAdjust="spacingAndGlyphs">(Protective oxide</text><text x="799.0" y="135.6" font-size="13.5" fill="#000" textLength="36.0" lengthAdjust="spacingAndGlyphs">layer)</text><text x="767.0" y="455.8" font-size="13.5" fill="#ed1c24" textLength="126.0" lengthAdjust="spacingAndGlyphs">boundary condition:</text><text x="763.8" y="473.6" font-size="13.5" fill="#ed1c24" textLength="101.7" lengthAdjust="spacingAndGlyphs">concentration of</text><text x="763.8" y="491.8" font-size="13.5" fill="#ed1c24" textLength="87.8" lengthAdjust="spacingAndGlyphs">oxygen is zero</text><text x="763.8" y="510.2" font-size="13.5" fill="#ed1c24" textLength="104.7" lengthAdjust="spacingAndGlyphs">mol/qubic meter</text>
</svg>
</body></html>
